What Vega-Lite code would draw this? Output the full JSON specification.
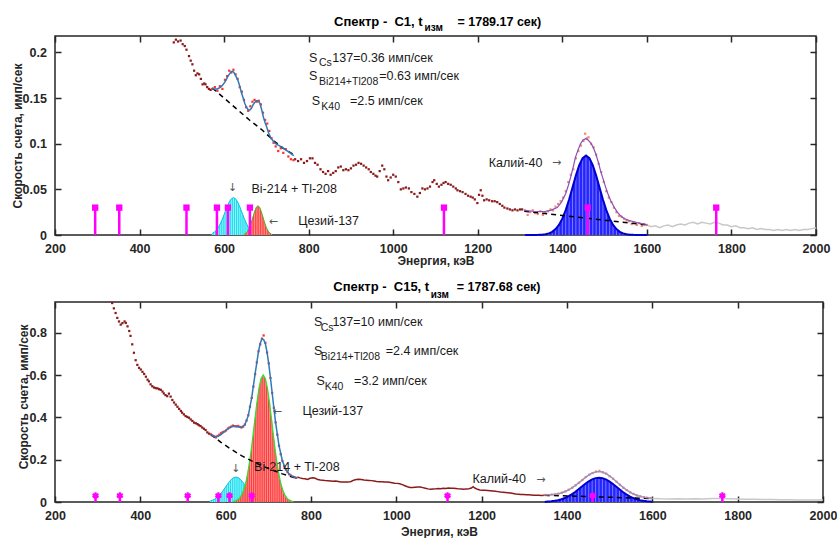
{
"$schema": "https://vega.github.io/schema/vega-lite/v6.json",
"background": "white",
"padding": {"left": 10, "top": 14, "right": 5, "bottom": 0},
"config": {
  "view": {"stroke": "#262626", "strokeWidth": 1.5},
  "font": "Liberation Sans",
  "axis": {"domain": false, "grid": false, "tickColor": "#262626", "tickWidth": 1.5, "tickSize": -6, "labelFont": "Liberation Sans", "labelFontWeight": "bold", "labelFontSize": 12.5, "labelColor": "#262626", "titleFont": "Liberation Sans", "titleFontWeight": "bold", "titleFontSize": 12, "titleColor": "#262626", "labelFlush": false, "labelOverlap": false}
},
"datasets": {
  "lol": [{"E":295,"v":0.03},{"E":352,"v":0.03},{"E":511,"v":0.03},{"E":583,"v":0.03},{"E":609,"v":0.03},{"E":661,"v":0.03},{"E":1120,"v":0.03},{"E":1460,"v":0.03},{"E":1764,"v":0.03}],
  "t_vl": [{"E":572,"kind":"roi"},{"E":764,"kind":"roi"},{"E":1310,"kind":"k"}],
  "b_vl": [{"E":563,"kind":"roi"},{"E":768,"kind":"roi"},{"E":1348,"kind":"k"}],
  "t_gray": [{"E":1600,"v":0.011},{"E":1610,"v":0.009},{"E":1620,"v":0.010},{"E":1630,"v":0.008},{"E":1640,"v":0.010},{"E":1650,"v":0.011},{"E":1660,"v":0.009},{"E":1670,"v":0.011},{"E":1680,"v":0.012},{"E":1690,"v":0.011},{"E":1700,"v":0.013},{"E":1710,"v":0.014},{"E":1720,"v":0.012},{"E":1730,"v":0.014},{"E":1740,"v":0.013},{"E":1750,"v":0.012},{"E":1760,"v":0.014},{"E":1770,"v":0.013},{"E":1780,"v":0.011},{"E":1790,"v":0.011},{"E":1800,"v":0.009},{"E":1810,"v":0.010},{"E":1820,"v":0.008},{"E":1830,"v":0.008},{"E":1840,"v":0.007},{"E":1850,"v":0.008},{"E":1860,"v":0.006},{"E":1870,"v":0.007},{"E":1880,"v":0.006},{"E":1890,"v":0.006},{"E":1900,"v":0.005},{"E":1910,"v":0.006},{"E":1920,"v":0.005},{"E":1930,"v":0.006},{"E":1940,"v":0.005},{"E":1950,"v":0.006},{"E":1960,"v":0.005},{"E":1970,"v":0.006},{"E":1980,"v":0.006},{"E":1990,"v":0.007},{"E":2000,"v":0.008}],
  "t_dark": [{"E":481,"v":0.211},{"E":486,"v":0.214},{"E":491,"v":0.212},{"E":497,"v":0.213},{"E":502,"v":0.209},{"E":507,"v":0.207},{"E":511,"v":0.203},{"E":517,"v":0.196},{"E":521,"v":0.191},{"E":525,"v":0.187},{"E":529,"v":0.180},{"E":533,"v":0.175},{"E":537,"v":0.177},{"E":541,"v":0.176},{"E":545,"v":0.171},{"E":549,"v":0.165},{"E":553,"v":0.166},{"E":556,"v":0.165},{"E":560,"v":0.162},{"E":564,"v":0.160},{"E":568,"v":0.159},
    {"E":768,"v":0.083},{"E":775,"v":0.081},{"E":782,"v":0.083},{"E":789,"v":0.079},{"E":796,"v":0.081},{"E":803,"v":0.084},{"E":809,"v":0.084},{"E":815,"v":0.079},{"E":821,"v":0.077},{"E":828,"v":0.072},{"E":834,"v":0.069},{"E":840,"v":0.067},{"E":846,"v":0.070},{"E":852,"v":0.066},{"E":858,"v":0.068},{"E":864,"v":0.070},{"E":870,"v":0.074},{"E":876,"v":0.075},{"E":882,"v":0.071},{"E":888,"v":0.072},{"E":894,"v":0.071},{"E":900,"v":0.073},{"E":906,"v":0.076},{"E":912,"v":0.077},{"E":918,"v":0.079},{"E":924,"v":0.078},{"E":930,"v":0.076},{"E":936,"v":0.074},{"E":942,"v":0.072},{"E":947,"v":0.069},{"E":953,"v":0.067},{"E":958,"v":0.065},{"E":962,"v":0.064},{"E":968,"v":0.070},{"E":974,"v":0.076},{"E":979,"v":0.072},{"E":984,"v":0.064},{"E":988,"v":0.060},{"E":994,"v":0.063},{"E":1000,"v":0.066},{"E":1006,"v":0.064},{"E":1012,"v":0.058},{"E":1018,"v":0.050},{"E":1024,"v":0.051},{"E":1030,"v":0.052},{"E":1037,"v":0.051},{"E":1043,"v":0.047},{"E":1050,"v":0.045},{"E":1057,"v":0.042},{"E":1063,"v":0.046},{"E":1069,"v":0.051},{"E":1075,"v":0.050},{"E":1081,"v":0.051},{"E":1087,"v":0.053},{"E":1093,"v":0.058},{"E":1097,"v":0.060},{"E":1103,"v":0.056},{"E":1108,"v":0.053},{"E":1114,"v":0.055},{"E":1119,"v":0.057},{"E":1124,"v":0.058},{"E":1130,"v":0.056},{"E":1136,"v":0.055},{"E":1142,"v":0.053},{"E":1148,"v":0.051},{"E":1152,"v":0.049},{"E":1158,"v":0.048},{"E":1164,"v":0.047},{"E":1171,"v":0.045},{"E":1177,"v":0.043},{"E":1183,"v":0.042},{"E":1188,"v":0.041},{"E":1193,"v":0.039},{"E":1199,"v":0.035},{"E":1203,"v":0.044},{"E":1207,"v":0.049},{"E":1211,"v":0.043},{"E":1215,"v":0.038},{"E":1221,"v":0.039},{"E":1227,"v":0.038},{"E":1234,"v":0.037},{"E":1240,"v":0.037},{"E":1246,"v":0.036},{"E":1252,"v":0.034},{"E":1258,"v":0.032},{"E":1263,"v":0.030},{"E":1270,"v":0.029},{"E":1276,"v":0.028},{"E":1282,"v":0.027},{"E":1288,"v":0.028},{"E":1294,"v":0.027},{"E":1300,"v":0.028},{"E":1305,"v":0.028}],
  "t_roi": [{"E":572,"v":0.160},{"E":578,"v":0.162},{"E":584,"v":0.158},{"E":590,"v":0.163},{"E":596,"v":0.160},{"E":602,"v":0.170},{"E":607,"v":0.174},{"E":612,"v":0.180},{"E":617,"v":0.178},{"E":622,"v":0.181},{"E":627,"v":0.176},{"E":632,"v":0.171},{"E":637,"v":0.162},{"E":642,"v":0.157},{"E":647,"v":0.148},{"E":652,"v":0.140},{"E":657,"v":0.136},{"E":662,"v":0.141},{"E":667,"v":0.146},{"E":672,"v":0.148},{"E":677,"v":0.146},{"E":682,"v":0.147},{"E":687,"v":0.143},{"E":692,"v":0.134},{"E":697,"v":0.126},{"E":702,"v":0.122},{"E":707,"v":0.114},{"E":712,"v":0.106},{"E":717,"v":0.101},{"E":722,"v":0.097},{"E":728,"v":0.092},{"E":734,"v":0.095},{"E":740,"v":0.090},{"E":746,"v":0.094},{"E":752,"v":0.086},{"E":758,"v":0.083},{"E":764,"v":0.082}],
  "t_kpts": [{"E":1312,"v":0.027},{"E":1318,"v":0.022},{"E":1324,"v":0.025},{"E":1330,"v":0.027},{"E":1336,"v":0.024},{"E":1342,"v":0.023},{"E":1348,"v":0.026},{"E":1354,"v":0.022},{"E":1360,"v":0.025},{"E":1366,"v":0.026},{"E":1372,"v":0.028},{"E":1378,"v":0.027},{"E":1384,"v":0.031},{"E":1390,"v":0.034},{"E":1396,"v":0.037},{"E":1402,"v":0.041},{"E":1408,"v":0.048},{"E":1414,"v":0.058},{"E":1420,"v":0.066},{"E":1426,"v":0.072},{"E":1432,"v":0.084},{"E":1438,"v":0.092},{"E":1444,"v":0.098},{"E":1450,"v":0.103},{"E":1454,"v":0.111},{"E":1458,"v":0.106},{"E":1462,"v":0.107},{"E":1468,"v":0.100},{"E":1474,"v":0.096},{"E":1480,"v":0.088},{"E":1486,"v":0.078},{"E":1492,"v":0.069},{"E":1498,"v":0.058},{"E":1504,"v":0.048},{"E":1510,"v":0.041},{"E":1516,"v":0.036},{"E":1522,"v":0.030},{"E":1528,"v":0.025},{"E":1534,"v":0.021},{"E":1540,"v":0.020},{"E":1546,"v":0.018},{"E":1552,"v":0.016},{"E":1558,"v":0.015},{"E":1564,"v":0.012},{"E":1570,"v":0.014},{"E":1576,"v":0.011},{"E":1582,"v":0.013},{"E":1588,"v":0.010},{"E":1594,"v":0.012},{"E":1600,"v":0.011}],
  "t_fitcs": [{"E":572,"v":0.161},{"E":576,"v":0.160},{"E":584,"v":0.160},{"E":592,"v":0.162},{"E":598,"v":0.165},{"E":604,"v":0.169},{"E":608,"v":0.173},{"E":612,"v":0.176},{"E":617,"v":0.179},{"E":621,"v":0.179},{"E":625,"v":0.177},{"E":629,"v":0.173},{"E":633,"v":0.169},{"E":637,"v":0.163},{"E":641,"v":0.156},{"E":645,"v":0.150},{"E":649,"v":0.144},{"E":653,"v":0.140},{"E":657,"v":0.137},{"E":661,"v":0.137},{"E":665,"v":0.139},{"E":669,"v":0.143},{"E":672,"v":0.145},{"E":676,"v":0.147},{"E":679,"v":0.147},{"E":682,"v":0.146},{"E":685,"v":0.144},{"E":689,"v":0.137},{"E":693,"v":0.129},{"E":697,"v":0.123},{"E":701,"v":0.118},{"E":705,"v":0.112},{"E":710,"v":0.107},{"E":716,"v":0.103},{"E":722,"v":0.100},{"E":730,"v":0.098},{"E":738,"v":0.096},{"E":746,"v":0.093},{"E":753,"v":0.091},{"E":761,"v":0.088},{"E":765,"v":0.087}],
  "t_fitk": [{"E":1310,"v":0.027},{"E":1330,"v":0.026},{"E":1356,"v":0.0255},{"E":1372,"v":0.027},{"E":1388,"v":0.030},{"E":1398,"v":0.036},{"E":1408,"v":0.0455},{"E":1414,"v":0.054},{"E":1420,"v":0.064},{"E":1426,"v":0.075},{"E":1431,"v":0.085},{"E":1437,"v":0.093},{"E":1443,"v":0.100},{"E":1449,"v":0.104},{"E":1455,"v":0.1055},{"E":1461,"v":0.104},{"E":1467,"v":0.101},{"E":1473,"v":0.096},{"E":1479,"v":0.089},{"E":1485,"v":0.080},{"E":1490,"v":0.071},{"E":1496,"v":0.062},{"E":1502,"v":0.053},{"E":1508,"v":0.045},{"E":1514,"v":0.038},{"E":1522,"v":0.031},{"E":1530,"v":0.025},{"E":1538,"v":0.021},{"E":1546,"v":0.018},{"E":1557,"v":0.016},{"E":1569,"v":0.0145},{"E":1581,"v":0.013},{"E":1593,"v":0.012},{"E":1600,"v":0.011}],
  "t_bg": [{"E":572,"v":0.161,"seg":"a"},{"E":600,"v":0.150,"seg":"a"},{"E":630,"v":0.138,"seg":"a"},{"E":660,"v":0.126,"seg":"a"},{"E":690,"v":0.115,"seg":"a"},{"E":718,"v":0.103,"seg":"a"},{"E":740,"v":0.095,"seg":"a"},{"E":765,"v":0.088,"seg":"a"},{"E":1310,"v":0.026,"seg":"b"},{"E":1600,"v":0.011,"seg":"b"}],
  "t_bi": [{"E":572,"v":0.0018},{"E":577,"v":0.0033},{"E":582,"v":0.0055},{"E":587,"v":0.0089},{"E":592,"v":0.0133},{"E":597,"v":0.0188},{"E":602,"v":0.0249},{"E":607,"v":0.0310},{"E":612,"v":0.0362},{"E":617,"v":0.0397},{"E":622,"v":0.0410},{"E":627,"v":0.0397},{"E":632,"v":0.0362},{"E":637,"v":0.0310},{"E":642,"v":0.0249},{"E":647,"v":0.0188},{"E":652,"v":0.0133},{"E":657,"v":0.0089},{"E":662,"v":0.0055},{"E":667,"v":0.0033},{"E":672,"v":0.0018},{"E":677,"v":0.0009},{"E":682,"v":0.0005}],
  "t_cs": [{"E":648,"v":0.0009},{"E":652,"v":0.0021},{"E":656,"v":0.0043},{"E":660,"v":0.0080},{"E":664,"v":0.0132},{"E":668,"v":0.0194},{"E":672,"v":0.0256},{"E":676,"v":0.0303},{"E":680,"v":0.0320},{"E":684,"v":0.0303},{"E":688,"v":0.0256},{"E":692,"v":0.0194},{"E":696,"v":0.0132},{"E":700,"v":0.0080},{"E":704,"v":0.0043},{"E":708,"v":0.0021},{"E":712,"v":0.0009}],
  "t_k": [{"E":1312,"v":0},{"E":1336,"v":0.0001},{"E":1344,"v":0.0002},{"E":1352,"v":0.0004},{"E":1360,"v":0.0008},{"E":1368,"v":0.0018},{"E":1376,"v":0.0035},{"E":1384,"v":0.0064},{"E":1392,"v":0.0110},{"E":1400,"v":0.0179},{"E":1408,"v":0.0272},{"E":1416,"v":0.0389},{"E":1424,"v":0.0519},{"E":1432,"v":0.0651},{"E":1440,"v":0.0765},{"E":1448,"v":0.0842},{"E":1456,"v":0.0870},{"E":1464,"v":0.0842},{"E":1472,"v":0.0765},{"E":1480,"v":0.0651},{"E":1488,"v":0.0519},{"E":1496,"v":0.0389},{"E":1504,"v":0.0272},{"E":1512,"v":0.0179},{"E":1520,"v":0.0110},{"E":1528,"v":0.0064},{"E":1536,"v":0.0035},{"E":1544,"v":0.0018},{"E":1552,"v":0.0008},{"E":1560,"v":0.0004},{"E":1568,"v":0.0002},{"E":1576,"v":0.0001},{"E":1584,"v":0.0001},{"E":1600,"v":0}],
  "t_txt": [
    {"role":"main","E":800.7,"v":0.1942,"t":"S"},
    {"role":"main","E":856,"v":0.1942,"t":"137=0.36 имп/сек"},
    {"role":"main","E":800.7,"v":0.1746,"t":"S"},
    {"role":"main","E":967,"v":0.1746,"t":"=0.63 имп/сек"},
    {"role":"main","E":807.5,"v":0.1473,"t":"S"},
    {"role":"main","E":897.7,"v":0.1473,"t":"=2.5 имп/сек"},
    {"role":"main","E":664.5,"v":0.0502,"t":"Bi-214 + Tl-208"},
    {"role":"main","E":775.6,"v":0.0153,"t":"Цезий-137"},
    {"role":"main","E":1226,"v":0.0789,"t":"Калий-40"},
    {"role":"sub","E":824.4,"v":0.1887,"t":"Cs"},
    {"role":"sub","E":824.4,"v":0.1673,"t":"Bi214+Tl208"},
    {"role":"sub","E":830,"v":0.140,"t":"K40"},
    {"role":"arrow","E":620,"v":0.051,"t":"↓"},
    {"role":"arrow","E":716.5,"v":0.0142,"t":"←"},
    {"role":"arrow","E":1386.5,"v":0.0785,"t":"→"},
    {"role":"title","E":1069.6,"v":0.2338,"t":"Спектр -\u00a0\u00a0С1,\u00a0t"},
    {"role":"title2","E":1152,"v":0.2338,"t":"= 1789.17 сек)"},
    {"role":"titlesub","E":1074,"v":0.2269,"t":"изм"}
  ],
  "b_gray": [{"E":1600,"v":0.017},{"E":1620,"v":0.015},{"E":1640,"v":0.014},{"E":1660,"v":0.015},{"E":1680,"v":0.014},{"E":1700,"v":0.015},{"E":1720,"v":0.014},{"E":1740,"v":0.016},{"E":1760,"v":0.016},{"E":1780,"v":0.015},{"E":1800,"v":0.014},{"E":1820,"v":0.013},{"E":1840,"v":0.013},{"E":1860,"v":0.012},{"E":1880,"v":0.012},{"E":1900,"v":0.011},{"E":1920,"v":0.011},{"E":1940,"v":0.010},{"E":1960,"v":0.009},{"E":1980,"v":0.009},{"E":2000,"v":0.010}],
  "b_dark": [{"E":334,"v":0.940},{"E":338,"v":0.915},{"E":342,"v":0.893},{"E":346,"v":0.870},{"E":350,"v":0.853},{"E":354,"v":0.838},{"E":358,"v":0.845},{"E":363,"v":0.853},{"E":366,"v":0.846},{"E":370,"v":0.830},{"E":374,"v":0.808},{"E":377,"v":0.785},{"E":381,"v":0.745},{"E":385,"v":0.705},{"E":389,"v":0.670},{"E":393,"v":0.648},{"E":397,"v":0.634},{"E":401,"v":0.626},{"E":405,"v":0.615},{"E":409,"v":0.605},{"E":413,"v":0.592},{"E":417,"v":0.578},{"E":420,"v":0.570},{"E":424,"v":0.556},{"E":428,"v":0.547},{"E":432,"v":0.541},{"E":436,"v":0.538},{"E":440,"v":0.537},{"E":444,"v":0.533},{"E":448,"v":0.530},{"E":452,"v":0.522},{"E":455,"v":0.513},{"E":459,"v":0.505},{"E":463,"v":0.500},{"E":467,"v":0.512},{"E":471,"v":0.498},{"E":475,"v":0.482},{"E":479,"v":0.470},{"E":483,"v":0.460},{"E":487,"v":0.450},{"E":491,"v":0.440},{"E":495,"v":0.430},{"E":498,"v":0.422},{"E":502,"v":0.414},{"E":506,"v":0.406},{"E":510,"v":0.402},{"E":514,"v":0.398},{"E":518,"v":0.390},{"E":522,"v":0.383},{"E":526,"v":0.375},{"E":530,"v":0.372},{"E":534,"v":0.368},{"E":537,"v":0.363},{"E":541,"v":0.359},{"E":545,"v":0.352},{"E":549,"v":0.346},{"E":553,"v":0.340},{"E":557,"v":0.329},{"E":561,"v":0.323}],
  "b_dark2": [{"E":768,"v":0.118},{"E":774,"v":0.114},{"E":780,"v":0.111},{"E":786,"v":0.110},{"E":792,"v":0.107},{"E":798,"v":0.112},{"E":804,"v":0.115},{"E":810,"v":0.112},{"E":816,"v":0.106},{"E":822,"v":0.104},{"E":828,"v":0.103},{"E":834,"v":0.101},{"E":840,"v":0.100},{"E":846,"v":0.099},{"E":852,"v":0.098},{"E":858,"v":0.099},{"E":864,"v":0.097},{"E":870,"v":0.095},{"E":876,"v":0.094},{"E":882,"v":0.094},{"E":888,"v":0.094},{"E":894,"v":0.097},{"E":900,"v":0.103},{"E":906,"v":0.106},{"E":912,"v":0.107},{"E":918,"v":0.106},{"E":924,"v":0.104},{"E":930,"v":0.103},{"E":936,"v":0.102},{"E":942,"v":0.101},{"E":948,"v":0.099},{"E":954,"v":0.097},{"E":960,"v":0.096},{"E":966,"v":0.096},{"E":972,"v":0.095},{"E":978,"v":0.094},{"E":984,"v":0.093},{"E":990,"v":0.091},{"E":996,"v":0.089},{"E":1002,"v":0.088},{"E":1008,"v":0.086},{"E":1014,"v":0.082},{"E":1020,"v":0.077},{"E":1026,"v":0.072},{"E":1032,"v":0.069},{"E":1038,"v":0.068},{"E":1044,"v":0.070},{"E":1050,"v":0.071},{"E":1056,"v":0.071},{"E":1062,"v":0.068},{"E":1068,"v":0.065},{"E":1074,"v":0.062},{"E":1080,"v":0.060},{"E":1086,"v":0.061},{"E":1092,"v":0.062},{"E":1098,"v":0.064},{"E":1104,"v":0.063},{"E":1110,"v":0.065},{"E":1116,"v":0.064},{"E":1122,"v":0.066},{"E":1128,"v":0.065},{"E":1134,"v":0.065},{"E":1140,"v":0.064},{"E":1146,"v":0.062},{"E":1152,"v":0.061},{"E":1158,"v":0.060},{"E":1164,"v":0.062},{"E":1170,"v":0.063},{"E":1176,"v":0.066},{"E":1180,"v":0.072},{"E":1184,"v":0.066},{"E":1190,"v":0.060},{"E":1196,"v":0.057},{"E":1202,"v":0.056},{"E":1208,"v":0.055},{"E":1214,"v":0.054},{"E":1220,"v":0.053},{"E":1226,"v":0.052},{"E":1232,"v":0.051},{"E":1238,"v":0.049},{"E":1244,"v":0.047},{"E":1250,"v":0.046},{"E":1256,"v":0.045},{"E":1262,"v":0.044},{"E":1268,"v":0.042},{"E":1274,"v":0.040},{"E":1280,"v":0.038},{"E":1286,"v":0.037},{"E":1292,"v":0.036},{"E":1298,"v":0.035},{"E":1304,"v":0.034},{"E":1310,"v":0.034},{"E":1316,"v":0.033},{"E":1322,"v":0.032},{"E":1328,"v":0.032},{"E":1334,"v":0.032},{"E":1340,"v":0.031},{"E":1348,"v":0.032}],
  "b_roi": [{"E":565,"v":0.320},{"E":569,"v":0.314},{"E":573,"v":0.310},{"E":577,"v":0.305},{"E":581,"v":0.312},{"E":585,"v":0.318},{"E":589,"v":0.325},{"E":593,"v":0.330},{"E":597,"v":0.333},{"E":601,"v":0.338},{"E":605,"v":0.347},{"E":609,"v":0.352},{"E":613,"v":0.356},{"E":617,"v":0.361},{"E":621,"v":0.358},{"E":625,"v":0.357},{"E":629,"v":0.359},{"E":633,"v":0.355},{"E":637,"v":0.352},{"E":641,"v":0.356},{"E":645,"v":0.366},{"E":649,"v":0.385},{"E":653,"v":0.410},{"E":657,"v":0.450},{"E":661,"v":0.492},{"E":665,"v":0.545},{"E":669,"v":0.604},{"E":673,"v":0.660},{"E":677,"v":0.712},{"E":681,"v":0.745},{"E":685,"v":0.772},{"E":689,"v":0.787},{"E":693,"v":0.752},{"E":697,"v":0.706},{"E":701,"v":0.655},{"E":705,"v":0.586},{"E":709,"v":0.515},{"E":713,"v":0.445},{"E":717,"v":0.376},{"E":721,"v":0.318},{"E":725,"v":0.266},{"E":729,"v":0.226},{"E":733,"v":0.194},{"E":737,"v":0.170},{"E":741,"v":0.153},{"E":745,"v":0.141},{"E":749,"v":0.131},{"E":753,"v":0.125},{"E":757,"v":0.120},{"E":761,"v":0.117},{"E":765,"v":0.114}],
  "b_fitcs": [{"E":565,"v":0.319},{"E":573,"v":0.309},{"E":581,"v":0.310},{"E":589,"v":0.318},{"E":597,"v":0.333},{"E":605,"v":0.346},{"E":613,"v":0.356},{"E":621,"v":0.359},{"E":629,"v":0.356},{"E":637,"v":0.353},{"E":645,"v":0.365},{"E":653,"v":0.408},{"E":661,"v":0.492},{"E":669,"v":0.605},{"E":677,"v":0.712},{"E":681,"v":0.750},{"E":685,"v":0.770},{"E":689,"v":0.767},{"E":693,"v":0.749},{"E":697,"v":0.708},{"E":701,"v":0.653},{"E":705,"v":0.586},{"E":709,"v":0.515},{"E":713,"v":0.443},{"E":717,"v":0.376},{"E":725,"v":0.266},{"E":733,"v":0.194},{"E":741,"v":0.153},{"E":749,"v":0.131},{"E":757,"v":0.120},{"E":768,"v":0.112}],
  "b_kpts": [{"E":1348,"v":0.033},{"E":1356,"v":0.032},{"E":1364,"v":0.035},{"E":1372,"v":0.036},{"E":1380,"v":0.039},{"E":1388,"v":0.044},{"E":1396,"v":0.050},{"E":1404,"v":0.058},{"E":1412,"v":0.067},{"E":1420,"v":0.079},{"E":1428,"v":0.091},{"E":1436,"v":0.104},{"E":1444,"v":0.118},{"E":1452,"v":0.129},{"E":1460,"v":0.137},{"E":1468,"v":0.144},{"E":1476,"v":0.147},{"E":1484,"v":0.141},{"E":1492,"v":0.134},{"E":1500,"v":0.122},{"E":1508,"v":0.110},{"E":1516,"v":0.096},{"E":1524,"v":0.081},{"E":1532,"v":0.067},{"E":1540,"v":0.056},{"E":1548,"v":0.046},{"E":1556,"v":0.038},{"E":1564,"v":0.031},{"E":1572,"v":0.027},{"E":1580,"v":0.023},{"E":1588,"v":0.020},{"E":1596,"v":0.018}],
  "b_fitk": [{"E":1348,"v":0.0332},{"E":1360,"v":0.0340},{"E":1372,"v":0.0364},{"E":1384,"v":0.0412},{"E":1396,"v":0.0495},{"E":1408,"v":0.0618},{"E":1420,"v":0.0783},{"E":1432,"v":0.0977},{"E":1444,"v":0.1173},{"E":1456,"v":0.1334},{"E":1468,"v":0.1427},{"E":1480,"v":0.1428},{"E":1492,"v":0.1335},{"E":1504,"v":0.1167},{"E":1516,"v":0.0958},{"E":1528,"v":0.0747},{"E":1540,"v":0.0560},{"E":1552,"v":0.0413},{"E":1564,"v":0.0310},{"E":1576,"v":0.0242},{"E":1588,"v":0.0200},{"E":1600,"v":0.0174}],
  "b_bg": [{"E":565,"v":0.319,"seg":"a"},{"E":589,"v":0.282,"seg":"a"},{"E":613,"v":0.249,"seg":"a"},{"E":637,"v":0.219,"seg":"a"},{"E":661,"v":0.194,"seg":"a"},{"E":685,"v":0.171,"seg":"a"},{"E":709,"v":0.151,"seg":"a"},{"E":733,"v":0.133,"seg":"a"},{"E":757,"v":0.118,"seg":"a"},{"E":768,"v":0.112,"seg":"a"},{"E":1348,"v":0.032,"seg":"b"},{"E":1600,"v":0.016,"seg":"b"}],
  "b_bi": [{"E":564,"v":0.0052},{"E":569,"v":0.0085},{"E":574,"v":0.0135},{"E":579,"v":0.0203},{"E":584,"v":0.0294},{"E":589,"v":0.0407},{"E":594,"v":0.0540},{"E":599,"v":0.0686},{"E":604,"v":0.0834},{"E":609,"v":0.0971},{"E":614,"v":0.1082},{"E":619,"v":0.1155},{"E":624,"v":0.1180},{"E":629,"v":0.1155},{"E":634,"v":0.1082},{"E":639,"v":0.0971},{"E":644,"v":0.0834},{"E":649,"v":0.0686},{"E":654,"v":0.0540},{"E":659,"v":0.0407},{"E":664,"v":0.0294},{"E":669,"v":0.0203},{"E":674,"v":0.0135},{"E":679,"v":0.0085},{"E":684,"v":0.0052}],
  "b_cs": [{"E":618,"v":0.0023},{"E":623,"v":0.0050},{"E":628,"v":0.0101},{"E":633,"v":0.0194},{"E":638,"v":0.0353},{"E":643,"v":0.0604},{"E":648,"v":0.0978},{"E":653,"v":0.1496},{"E":658,"v":0.2162},{"E":663,"v":0.2954},{"E":668,"v":0.3812},{"E":673,"v":0.4649},{"E":678,"v":0.5357},{"E":683,"v":0.5832},{"E":688,"v":0.6000},{"E":693,"v":0.5832},{"E":698,"v":0.5357},{"E":703,"v":0.4649},{"E":708,"v":0.3812},{"E":713,"v":0.2954},{"E":718,"v":0.2162},{"E":723,"v":0.1496},{"E":728,"v":0.0978},{"E":733,"v":0.0604},{"E":738,"v":0.0353},{"E":743,"v":0.0194},{"E":748,"v":0.0101},{"E":753,"v":0.0050},{"E":758,"v":0.0023}],
  "b_k": [{"E":1348,"v":0},{"E":1355,"v":0.0019},{"E":1363,"v":0.0033},{"E":1371,"v":0.0054},{"E":1379,"v":0.0084},{"E":1387,"v":0.0128},{"E":1395,"v":0.0187},{"E":1403,"v":0.0265},{"E":1411,"v":0.0360},{"E":1419,"v":0.0473},{"E":1427,"v":0.0599},{"E":1435,"v":0.0731},{"E":1443,"v":0.0860},{"E":1451,"v":0.0977},{"E":1459,"v":0.1070},{"E":1467,"v":0.1129},{"E":1475,"v":0.1150},{"E":1483,"v":0.1129},{"E":1491,"v":0.1070},{"E":1499,"v":0.0977},{"E":1507,"v":0.0860},{"E":1515,"v":0.0731},{"E":1523,"v":0.0599},{"E":1531,"v":0.0473},{"E":1539,"v":0.0360},{"E":1547,"v":0.0265},{"E":1555,"v":0.0187},{"E":1563,"v":0.0128},{"E":1571,"v":0.0084},{"E":1579,"v":0.0054},{"E":1587,"v":0.0033},{"E":1595,"v":0.0019},{"E":1600,"v":0}],
  "b_txt": [
    {"role":"main","E":807,"v":0.8506,"t":"S"},
    {"role":"main","E":850.2,"v":0.8506,"t":"137=10 имп/сек"},
    {"role":"main","E":807,"v":0.715,"t":"S"},
    {"role":"main","E":975,"v":0.715,"t":"=2.4 имп/сек"},
    {"role":"main","E":812.7,"v":0.5705,"t":"S"},
    {"role":"main","E":901,"v":0.5705,"t":"=3.2 имп/сек"},
    {"role":"main","E":780,"v":0.429,"t":"Цезий-137"},
    {"role":"main","E":666.5,"v":0.165,"t":"Bi-214 + Tl-208"},
    {"role":"main","E":1178.3,"v":0.110,"t":"Калий-40"},
    {"role":"sub","E":822.8,"v":0.822,"t":"Cs"},
    {"role":"sub","E":822.8,"v":0.6856,"t":"Bi214+Tl208"},
    {"role":"sub","E":832,"v":0.542,"t":"K40"},
    {"role":"arrow","E":623.6,"v":0.157,"t":"↓"},
    {"role":"arrow","E":721,"v":0.424,"t":"←"},
    {"role":"arrow","E":1338.5,"v":0.106,"t":"→"},
    {"role":"title","E":1077,"v":1.0156,"t":"Спектр -\u00a0\u00a0С15,\u00a0t"},
    {"role":"title2","E":1141.6,"v":1.0156,"t":"= 1787.68 сек)"},
    {"role":"titlesub","E":1080.6,"v":0.979,"t":"изм"}
  ]
},
"spacing": 67,
"bounds": "flush",
"vconcat": [
 {
  "width": 761, "height": 199,
  "encoding": {
    "x": {"field":"E","type":"quantitative","scale":{"domain":[200,2000],"nice":false,"zero":false},"axis":null},
    "y": {"field":"v","type":"quantitative","scale":{"domain":[0,0.218],"nice":false,"zero":false},"axis":null}
  },
  "resolve": {"axis": {"x":"independent","y":"independent"}},
  "layer": [
    {"data":{"name":"lol"},"mark":{"type":"point","opacity":0},"encoding":{
      "x":{"field":"E","type":"quantitative","scale":{"domain":[200,2000],"nice":false,"zero":false},"axis":{"orient":"bottom","values":[200,400,600,800,1000,1200,1400,1600,1800,2000],"format":"d","title":"Энергия, кэВ","labelPadding":13,"titleBaseline":"middle","titleY":25}},
      "y":{"field":"v","type":"quantitative","scale":{"domain":[0,0.218],"nice":false,"zero":false},"axis":{"orient":"left","values":[0,0.05,0.1,0.15,0.2],"format":"~g","title":"Скорость счета, имп/сек","labelPadding":14.6,"titleX":-37.3,"titleBaseline":"middle"}}}},
    {"data":{"name":"lol"},"mark":{"type":"point","opacity":0},"encoding":{
      "x":{"field":"E","type":"quantitative","scale":{"domain":[200,2000],"nice":false,"zero":false},"axis":{"orient":"top","values":[200,400,600,800,1000,1200,1400,1600,1800,2000],"labels":false,"title":null}},
      "y":{"field":"v","type":"quantitative","scale":{"domain":[0,0.218],"nice":false,"zero":false},"axis":{"orient":"right","values":[0,0.05,0.1,0.15,0.2],"labels":false,"title":null}}}},
    {"data":{"name":"t_gray"},"mark":{"type":"line","color":"#c8c8c8","strokeWidth":1.5},"encoding":{}},
    {"data":{"name":"t_vl"},"transform":[{"filter":"datum.kind=='roi'"}],"mark":{"type":"rule","color":"#9acd6a","strokeWidth":1.5},"encoding":{"y":{"datum":0},"y2":{"datum":0.218}}},
    {"data":{"name":"t_vl"},"transform":[{"filter":"datum.kind=='k'"}],"mark":{"type":"rule","color":"#e03ce0","strokeWidth":1.2},"encoding":{"y":{"datum":0},"y2":{"datum":0.218}}},
    {"data":{"name":"t_bi"},"mark":{"type":"area","color":"#1cdcee"},"encoding":{}},
    {"data":{"name":"t_bi"},"mark":{"type":"rule","color":"#96f2fa","strokeWidth":1},"encoding":{"y2":{"datum":0}}},
    {"data":{"name":"t_bi"},"mark":{"type":"line","color":"#10c4dc","strokeWidth":1},"encoding":{}},
    {"data":{"name":"t_cs"},"mark":{"type":"area","color":"#ff2a2a"},"encoding":{}},
    {"data":{"name":"t_cs"},"mark":{"type":"rule","color":"#ff9090","strokeWidth":1},"encoding":{"y2":{"datum":0}}},
    {"data":{"name":"t_cs"},"mark":{"type":"line","color":"#44bb22","strokeWidth":1},"encoding":{}},
    {"data":{"name":"t_k"},"mark":{"type":"area","color":"#2525ff"},"encoding":{}},
    {"data":{"name":"t_k"},"mark":{"type":"rule","color":"#7a7aff","strokeWidth":1},"encoding":{"y2":{"datum":0}}},
    {"data":{"name":"t_k"},"mark":{"type":"line","color":"#0000d0","strokeWidth":2},"encoding":{}},
    {"data":{"name":"t_dark"},"mark":{"type":"point","shape":"square","filled":true,"size":5,"color":"#8b1a1a","opacity":1}},
    {"data":{"name":"t_roi"},"mark":{"type":"point","shape":"square","filled":true,"size":5,"color":"#ff3030","opacity":1}},
    {"data":{"name":"t_kpts"},"mark":{"type":"point","shape":"square","filled":true,"size":5,"color":"#f08878","opacity":1}},
    {"data":{"name":"t_bg"},"mark":{"type":"line","color":"#000000","strokeDash":[5,4],"strokeWidth":1.5},"encoding":{"detail":{"field":"seg"}}},
    {"data":{"name":"t_fitcs"},"mark":{"type":"line","color":"#2b7bba","strokeWidth":1.5},"encoding":{}},
    {"data":{"name":"t_fitk"},"mark":{"type":"line","color":"#8a4fb8","strokeWidth":1.2},"encoding":{}},
    {"data":{"name":"lol"},"mark":{"type":"rule","color":"#ff00ff","strokeWidth":2.5},"encoding":{"y2":{"datum":0}}},
    {"data":{"name":"lol"},"mark":{"type":"point","shape":"square","filled":true,"size":40,"color":"#ff00ff","opacity":1}},
    {"data":{"name":"t_txt"},"transform":[{"filter":"datum.role=='main'"}],"mark":{"type":"text","align":"left","baseline":"middle","fontSize":12.5,"font":"Liberation Sans","color":"#1a1a1a"},"encoding":{"text":{"field":"t"}}},
    {"data":{"name":"t_txt"},"transform":[{"filter":"datum.role=='sub'"}],"mark":{"type":"text","align":"left","baseline":"middle","fontSize":10.5,"font":"Liberation Sans","color":"#1a1a1a"},"encoding":{"text":{"field":"t"}}},
    {"data":{"name":"t_txt"},"transform":[{"filter":"datum.role=='arrow'"}],"mark":{"type":"text","align":"center","baseline":"middle","fontSize":11,"font":"DejaVu Sans","color":"#555555"},"encoding":{"text":{"field":"t"}}},
    {"data":{"name":"t_txt"},"transform":[{"filter":"datum.role=='title'"}],"mark":{"type":"text","align":"right","baseline":"middle","fontSize":13,"fontWeight":"bold","font":"Liberation Sans","color":"#000000"},"encoding":{"text":{"field":"t"}}},
    {"data":{"name":"t_txt"},"transform":[{"filter":"datum.role=='title2'"}],"mark":{"type":"text","align":"left","baseline":"middle","fontSize":12.5,"fontWeight":"bold","font":"Liberation Sans","color":"#000000"},"encoding":{"text":{"field":"t"}}},
    {"data":{"name":"t_txt"},"transform":[{"filter":"datum.role=='titlesub'"}],"mark":{"type":"text","align":"left","baseline":"middle","fontSize":10,"fontWeight":"bold","font":"Liberation Sans","color":"#000000"},"encoding":{"text":{"field":"t"}}}
  ]
 },
 {
  "width": 768, "height": 200,
  "encoding": {
    "x": {"field":"E","type":"quantitative","scale":{"domain":[200,2000],"nice":false,"zero":false},"axis":null},
    "y": {"field":"v","type":"quantitative","scale":{"domain":[0,0.945],"nice":false,"zero":false},"axis":null}
  },
  "resolve": {"axis": {"x":"independent","y":"independent"}},
  "layer": [
    {"data":{"name":"lol"},"mark":{"type":"point","opacity":0},"encoding":{
      "x":{"field":"E","type":"quantitative","scale":{"domain":[200,2000],"nice":false,"zero":false},"axis":{"orient":"bottom","values":[200,400,600,800,1000,1200,1400,1600,1800,2000],"format":"d","title":"Энергия, кэВ","labelPadding":13,"titleBaseline":"middle","titleY":29}},
      "y":{"field":"v","type":"quantitative","scale":{"domain":[0,0.945],"nice":false,"zero":false},"axis":{"orient":"left","values":[0,0.2,0.4,0.6,0.8],"format":"~g","title":"Скорость счета, имп/сек","labelPadding":14.6,"titleX":-31.8,"titleY":94.4,"titleBaseline":"middle"}}}},
    {"data":{"name":"lol"},"mark":{"type":"point","opacity":0},"encoding":{
      "x":{"field":"E","type":"quantitative","scale":{"domain":[200,2000],"nice":false,"zero":false},"axis":{"orient":"top","values":[200,400,600,800,1000,1200,1400,1600,1800,2000],"labels":false,"title":null}},
      "y":{"field":"v","type":"quantitative","scale":{"domain":[0,0.945],"nice":false,"zero":false},"axis":{"orient":"right","values":[0,0.2,0.4,0.6,0.8],"labels":false,"title":null}}}},
    {"data":{"name":"b_gray"},"mark":{"type":"line","color":"#c8c8c8","strokeWidth":1.5},"encoding":{}},
    {"data":{"name":"b_vl"},"transform":[{"filter":"datum.kind=='roi'"}],"mark":{"type":"rule","color":"#8fbf5a","strokeWidth":1.2},"encoding":{"y":{"datum":0},"y2":{"datum":0.945}}},
    {"data":{"name":"b_vl"},"transform":[{"filter":"datum.kind=='k'"}],"mark":{"type":"rule","color":"#f070f0","strokeWidth":2},"encoding":{"y":{"datum":0},"y2":{"datum":0.945}}},
    {"data":{"name":"b_bi"},"mark":{"type":"area","color":"#1cdcee"},"encoding":{}},
    {"data":{"name":"b_bi"},"mark":{"type":"rule","color":"#96f2fa","strokeWidth":1},"encoding":{"y2":{"datum":0}}},
    {"data":{"name":"b_bi"},"mark":{"type":"line","color":"#10c4dc","strokeWidth":1},"encoding":{}},
    {"data":{"name":"b_cs"},"mark":{"type":"area","color":"#ff2a2a","opacity":0.92},"encoding":{}},
    {"data":{"name":"b_cs"},"mark":{"type":"rule","color":"#ff9090","strokeWidth":1},"encoding":{"y2":{"datum":0}}},
    {"data":{"name":"b_cs"},"mark":{"type":"line","color":"#33dd33","strokeWidth":1.3},"encoding":{}},
    {"data":{"name":"b_k"},"mark":{"type":"area","color":"#2525ff"},"encoding":{}},
    {"data":{"name":"b_k"},"mark":{"type":"rule","color":"#7a7aff","strokeWidth":1},"encoding":{"y2":{"datum":0}}},
    {"data":{"name":"b_k"},"mark":{"type":"line","color":"#0000d0","strokeWidth":2},"encoding":{}},
    {"data":{"name":"b_dark"},"mark":{"type":"point","shape":"square","filled":true,"size":5,"color":"#8b1a1a","opacity":1}},
    {"data":{"name":"b_dark2"},"mark":{"type":"line","color":"#8b1a1a","strokeWidth":1.5},"encoding":{}},
    {"data":{"name":"b_roi"},"mark":{"type":"point","shape":"square","filled":true,"size":5,"color":"#ff3030","opacity":1}},
    {"data":{"name":"b_kpts"},"mark":{"type":"point","shape":"square","filled":true,"size":5,"color":"#f08878","opacity":1}},
    {"data":{"name":"b_bg"},"mark":{"type":"line","color":"#000000","strokeDash":[5,4],"strokeWidth":1.5},"encoding":{"detail":{"field":"seg"}}},
    {"data":{"name":"b_fitcs"},"mark":{"type":"line","color":"#2b7bba","strokeWidth":1.5},"encoding":{}},
    {"data":{"name":"b_fitk"},"mark":{"type":"line","color":"#a090b8","strokeWidth":1.5},"encoding":{}},
    {"data":{"name":"lol"},"mark":{"type":"rule","color":"#ff00ff","strokeWidth":2.5},"encoding":{"y2":{"datum":0}}},
    {"data":{"name":"lol"},"mark":{"type":"point","shape":"M0,-1L0,1M-0.87,-0.5L0.87,0.5M-0.87,0.5L0.87,-0.5","filled":false,"size":45,"strokeWidth":2.2,"color":"#ff00ff","opacity":1}},
    {"data":{"name":"b_txt"},"transform":[{"filter":"datum.role=='main'"}],"mark":{"type":"text","align":"left","baseline":"middle","fontSize":12.5,"font":"Liberation Sans","color":"#1a1a1a"},"encoding":{"text":{"field":"t"}}},
    {"data":{"name":"b_txt"},"transform":[{"filter":"datum.role=='sub'"}],"mark":{"type":"text","align":"left","baseline":"middle","fontSize":10.5,"font":"Liberation Sans","color":"#1a1a1a"},"encoding":{"text":{"field":"t"}}},
    {"data":{"name":"b_txt"},"transform":[{"filter":"datum.role=='arrow'"}],"mark":{"type":"text","align":"center","baseline":"middle","fontSize":11,"font":"DejaVu Sans","color":"#555555"},"encoding":{"text":{"field":"t"}}},
    {"data":{"name":"b_txt"},"transform":[{"filter":"datum.role=='title'"}],"mark":{"type":"text","align":"right","baseline":"middle","fontSize":13,"fontWeight":"bold","font":"Liberation Sans","color":"#000000"},"encoding":{"text":{"field":"t"}}},
    {"data":{"name":"b_txt"},"transform":[{"filter":"datum.role=='title2'"}],"mark":{"type":"text","align":"left","baseline":"middle","fontSize":12.5,"fontWeight":"bold","font":"Liberation Sans","color":"#000000"},"encoding":{"text":{"field":"t"}}},
    {"data":{"name":"b_txt"},"transform":[{"filter":"datum.role=='titlesub'"}],"mark":{"type":"text","align":"left","baseline":"middle","fontSize":10,"fontWeight":"bold","font":"Liberation Sans","color":"#000000"},"encoding":{"text":{"field":"t"}}}
  ]
 }
]
}
